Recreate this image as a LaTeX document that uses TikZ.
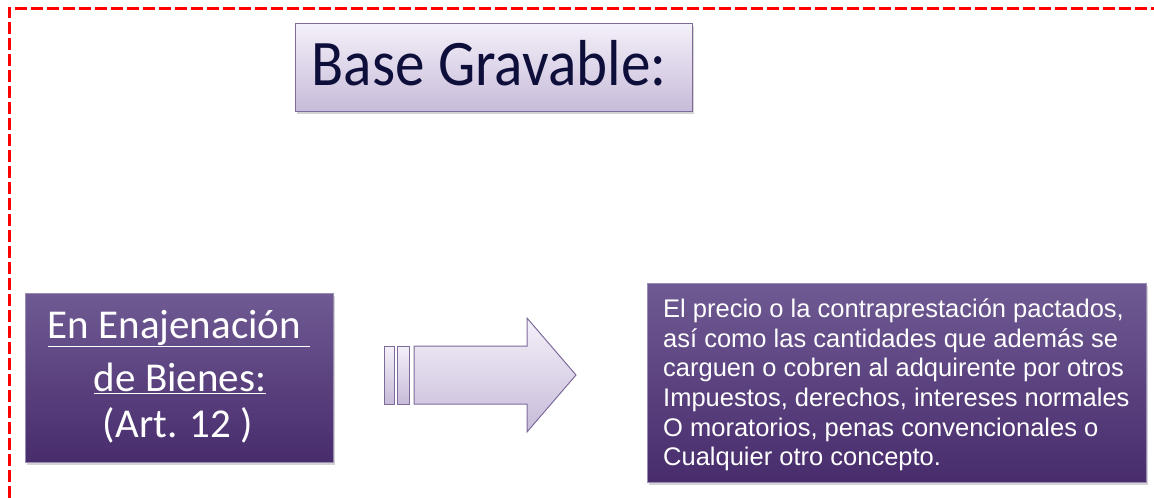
\documentclass[tikz,border=0pt]{standalone}
\usepackage{fontspec}
\setmainfont{Carlito}
\newfontfamily\arialfont{Liberation Sans}
\usetikzlibrary{shadows}
\definecolor{frame}{HTML}{FF0000}
\definecolor{lavtop}{HTML}{F4F0F9}
\definecolor{lavbot}{HTML}{C7BBD9}
\definecolor{lavline}{HTML}{7D6B9B}
\definecolor{purtop}{HTML}{6F5A93}
\definecolor{purbot}{HTML}{482C6C}
\definecolor{navy}{HTML}{0E0E3A}
\tikzset{
  lightbox/.style={draw=lavline, line width=1pt, top color=lavtop, bottom color=lavbot,
     drop shadow={shadow xshift=1.5pt, shadow yshift=-2.5pt, opacity=0.35}},
  darkbox/.style={draw=purtop!70!white, line width=0.8pt, top color=purtop, bottom color=purbot,
     drop shadow={shadow xshift=2pt, shadow yshift=-3pt, opacity=0.35}},
  arrowpart/.style={draw=lavline, line width=1pt, top color=lavtop, bottom color=lavbot},
  lefttext/.style={text=white, font=\fontsize{41}{47}\selectfont, anchor=base, inner sep=0pt},
  righttext/.style={text=white, font=\arialfont\fontsize{25.5}{30}\selectfont, anchor=base west, inner sep=0pt}
}
\begin{document}
\begin{tikzpicture}[x=1pt,y=-1pt]
\useasboundingbox (0,0) rectangle (1154,498);
% dashed frame
\draw[frame, line width=3pt, dash pattern=on 12pt off 4pt] (9,498) -- (9,8) -- (1160,8);
% title
\node[lightbox, minimum width=397pt, minimum height=88pt, anchor=north west, inner sep=0pt] (title) at (295,23) {};
\node[text=navy, font=\fontsize{65}{65}\selectfont, anchor=base, inner sep=0pt] (titletext) at (489,85) {\scalebox{0.91}[1]{Base Gravable:}};
% left box
\node[darkbox, minimum width=308pt, minimum height=169pt, anchor=north west, inner sep=0pt] (left) at (25,293) {};
\node[lefttext] (l1) at (179,338) {\underline{En Enajenación\ }};
\node[lefttext] (l2) at (180,391) {\underline{de Bienes:}};
\node[lefttext] (l3) at (178,437) {(Art. 12 )};
% arrow
\path[arrowpart] (384,346) rectangle (394,404);
\path[arrowpart] (397,346) rectangle (409,404);
\path[arrowpart] (414,346) -- (527,346) -- (527,318) -- (576,375) -- (527,432) -- (527,404) -- (414,404) -- cycle;
% right box
\node[darkbox, minimum width=499pt, minimum height=199pt, anchor=north west, inner sep=0pt] (right) at (647,283) {};
\node[righttext] (r1) at (663,317) {El precio o la contraprestación pactados,};
\node[righttext] (r2) at (663,347) {así como las cantidades que además se};
\node[righttext] (r3) at (663,376) {carguen o cobren al adquirente por otros};
\node[righttext] (r4) at (663,406) {Impuestos, derechos, intereses normales};
\node[righttext] (r5) at (663,436) {O moratorios, penas convencionales o};
\node[righttext] (r6) at (663,465) {Cualquier otro concepto.};
\end{tikzpicture}
\end{document}
